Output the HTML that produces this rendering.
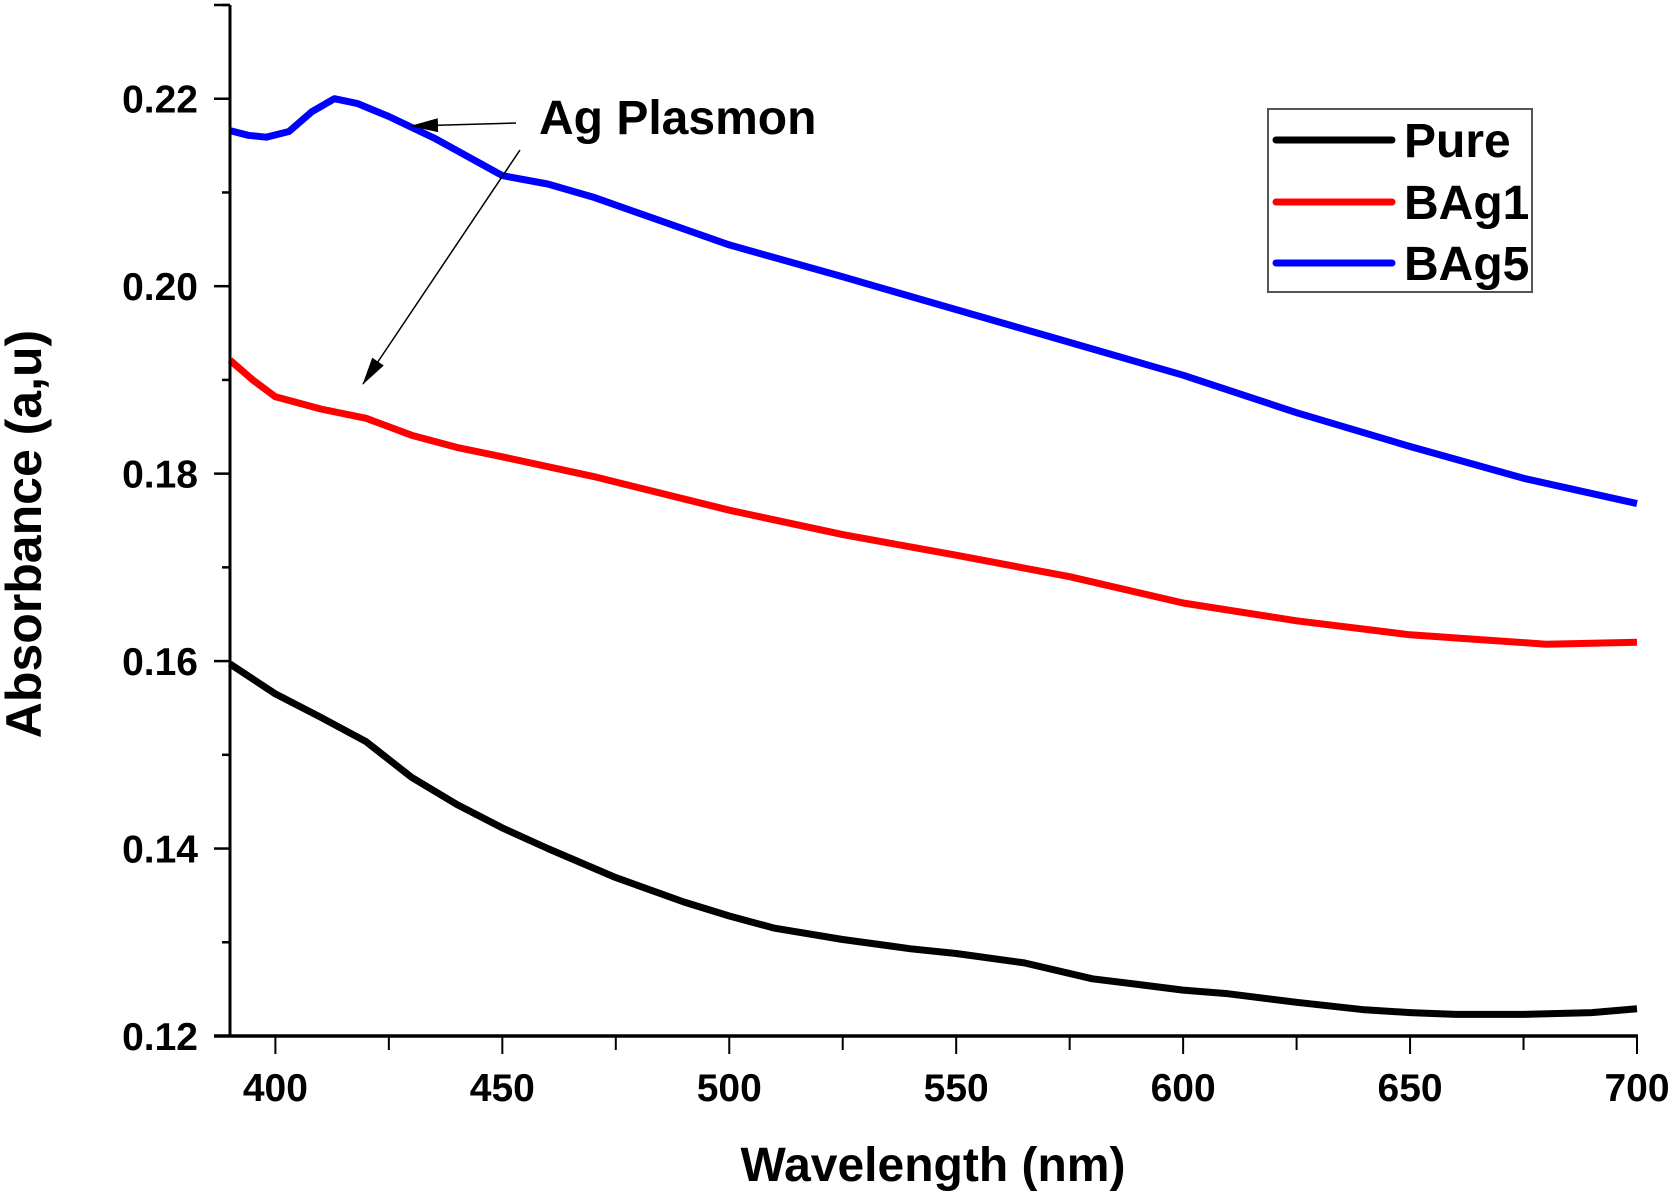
<!DOCTYPE html>
<html><head><meta charset="utf-8"><style>
html,body{margin:0;padding:0;background:#fff}
svg{display:block;font-family:"Liberation Sans",Arial,sans-serif;font-weight:bold}
</style></head><body>
<svg id="chart" width="1675" height="1198" viewBox="0 0 1675 1198">
<defs><marker id="ah2" markerWidth="28" markerHeight="14" refX="27" refY="7" orient="auto" markerUnits="userSpaceOnUse" viewBox="0 0 28 14"><path d="M0,0 L28,7 L0,14 z" fill="#000"/></marker></defs>
<g id="plot"></g>
<text x="539" y="134" font-size="48">Ag Plasmon</text>
<line x1="516" y1="123" x2="411" y2="126" stroke="#000" stroke-width="1.5" marker-end="url(#ah2)"/>
<line x1="520" y1="150" x2="363" y2="384" stroke="#000" stroke-width="1.5" marker-end="url(#ah2)"/>
<g>
<rect x="1268" y="109" width="264" height="183" fill="#fff" stroke="#555" stroke-width="2"/>
<g><line x1="1276" y1="140" x2="1392" y2="140" stroke="#000" stroke-width="7" stroke-linecap="round"/><text x="1404" y="157" font-size="48">Pure</text></g>
<g><line x1="1276" y1="202" x2="1392" y2="202" stroke="#f00" stroke-width="7" stroke-linecap="round"/><text x="1404" y="219" font-size="48">BAg1</text></g>
<g><line x1="1276" y1="263" x2="1392" y2="263" stroke="#00f" stroke-width="7" stroke-linecap="round"/><text x="1404" y="280" font-size="48">BAg5</text></g>
</g>
<text x="933" y="1181" font-size="48" text-anchor="middle">Wavelength (nm)</text>
<text transform="translate(41,534) rotate(-90)" font-size="50" text-anchor="middle">Absorbance (a,u)</text>
</svg>
<script>
const pureX=[390,400,410,420,430,440,450,460,475,490,500,510,525,540,550,565,580,590,600,610,625,640,650,660,675,690,700];
const pureY=[0.1597,0.1565,0.1540,0.1514,0.1476,0.1447,0.1422,0.1400,0.1369,0.1343,0.1328,0.1315,0.1303,0.1293,0.1288,0.1278,0.1261,0.1255,0.1249,0.1245,0.1236,0.1228,0.1225,0.1223,0.1223,0.1225,0.1229];
const bag1X=[390,395,400,410,420,430,440,450,470,500,525,550,575,600,625,650,665,680,700];
const bag1Y=[0.1921,0.1900,0.1882,0.1869,0.1859,0.1841,0.1828,0.1818,0.1797,0.1761,0.1735,0.1713,0.1690,0.1662,0.1643,0.1628,0.1623,0.1618,0.1620];
const bag5X=[390,394,398,403,408,413,418,425,435,450,460,470,500,525,550,575,600,625,650,675,700];
const bag5Y=[0.2166,0.2161,0.2159,0.2165,0.2186,0.2200,0.2195,0.2181,0.2158,0.2118,0.2109,0.2095,0.2044,0.2010,0.1975,0.1940,0.1905,0.1865,0.1829,0.1795,0.1768];
const xTicks=[400,450,500,550,600,650,700];
const yTicks=[0.12,0.14,0.16,0.18,0.20,0.22];
const NS="http://www.w3.org/2000/svg";
const L=230,R=1637,T=5,B=1036,X0=390,X1=700,Y0=0.12,Y1=0.23;
function sx(v){return L+(v-X0)/(X1-X0)*(R-L);}
function sy(v){return B-(v-Y0)/(Y1-Y0)*(B-T);}
const g=document.getElementById('plot');
function mk(t,a){const e=document.createElementNS(NS,t);for(const k in a)e.setAttribute(k,a[k]);g.appendChild(e);return e;}
function series(xs,ys,col,name){
 let d='';xs.forEach((x,i)=>{d+=(i?'L':'M')+sx(x).toFixed(1)+','+sy(ys[i]).toFixed(1);});
 const p=mk('path',{d:d,fill:'none',stroke:col,'stroke-width':7,'stroke-linejoin':'round'});
 
 
}
series(pureX,pureY,'#000','series-pure');
series(bag1X,bag1Y,'#f00','series-bag1');
series(bag5X,bag5Y,'#00f','series-bag5');
const ya=mk('line',{x1:L,y1:T,x2:L,y2:B,stroke:'#000','stroke-width':3});


const xa=mk('line',{x1:L-16,y1:B,x2:R+1,y2:B,stroke:'#000','stroke-width':3.5});


for(let v=400;v<=700;v+=25){const major=v%50===0;mk('line',{x1:sx(v),y1:B,x2:sx(v),y2:B+(major?18:14),stroke:'#000','stroke-width':2});}
for(let k=0;k<=11;k++){const v=0.12+k*0.01;const major=k%2===0;mk('line',{x1:L,y1:sy(v),x2:L-(major?16:8),y2:sy(v),stroke:'#000','stroke-width':2.5});}
mk('line',{x1:L,y1:T,x2:L-16,y2:T,stroke:'#000','stroke-width':2.5});
xTicks.forEach(v=>{const t=mk('text',{x:sx(v),y:1101,'font-size':39,'text-anchor':'middle'});t.textContent=v;
 
 });
yTicks.forEach(v=>{const t=mk('text',{x:198,y:sy(v)+14,'font-size':39,'text-anchor':'end'});t.textContent=v.toFixed(2);
 
 });
</script>
</body></html>
